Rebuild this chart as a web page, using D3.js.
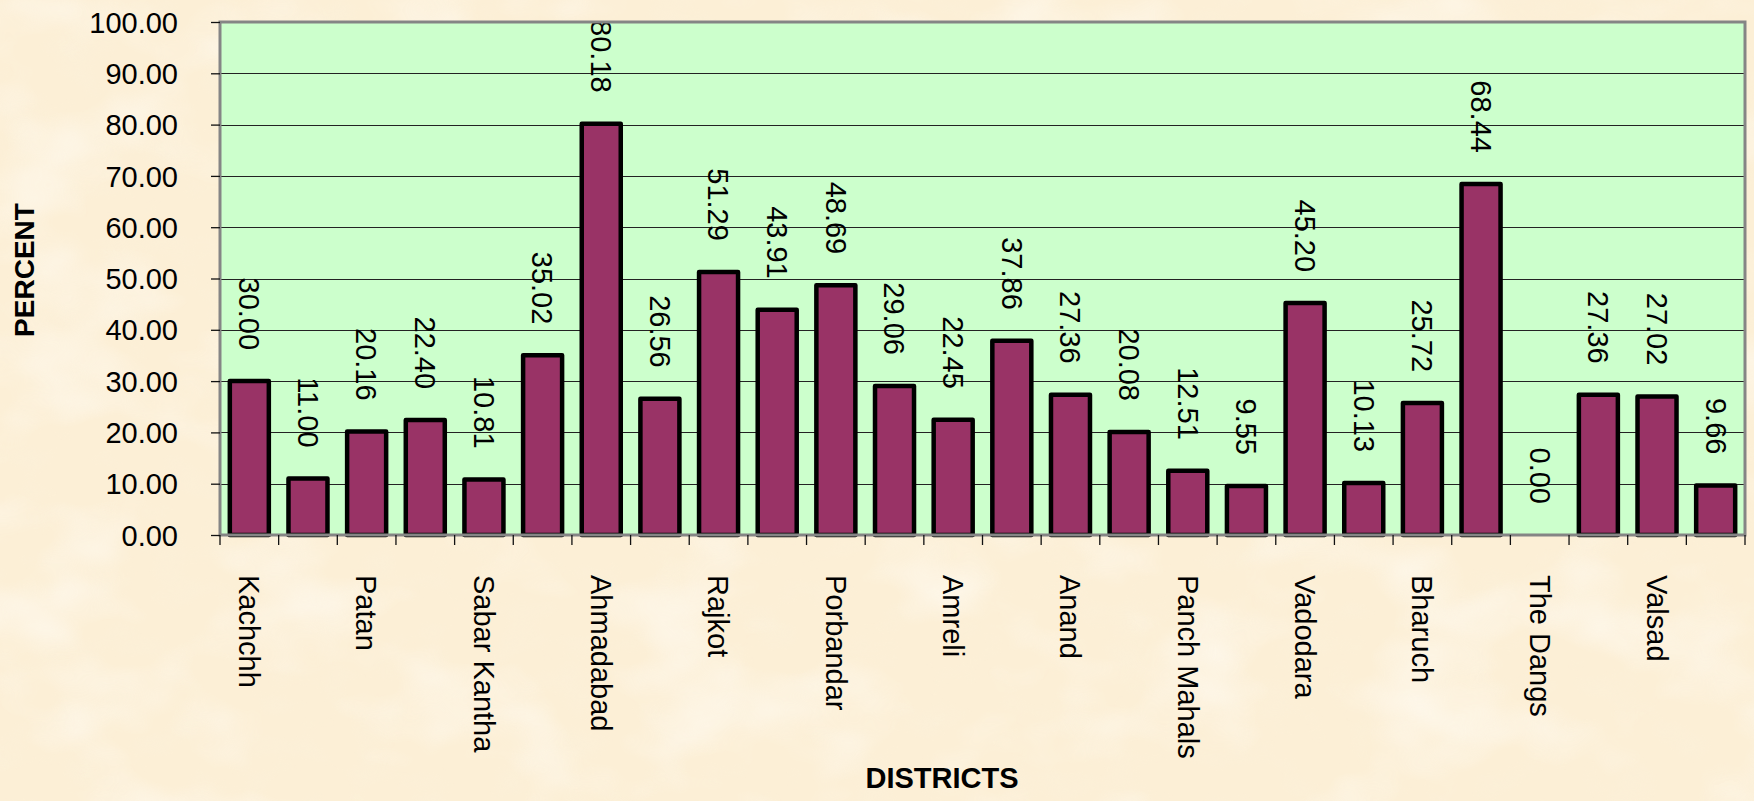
<!DOCTYPE html>
<html>
<head>
<meta charset="utf-8">
<script src="https://cdn.jsdelivr.net/npm/d3@7"></script>
<style>
  body { margin: 0; padding: 0; background: #fcefd6; }
  svg { display: block; }
  text { font-family: "Liberation Sans", Arial, sans-serif; fill: #000; }
</style>
</head>
<body>
<div id="chart"></div>
<script>
// districts in chart order (only every second one gets a label, like the original)
var districts = ["Kachchh", "Banas Kantha", "Patan", "Mahesana", "Sabar Kantha", "Gandhinagar",
  "Ahmadabad", "Surendranagar", "Rajkot", "Jamnagar", "Porbandar", "Junagadh", "Amreli",
  "Bhavnagar", "Anand", "Kheda", "Panch Mahals", "Dohad", "Vadodara", "Narmada", "Bharuch",
  "Surat", "The Dangs", "Navsari", "Valsad", "Tapi"];
var percent = [30.00, 11.00, 20.16, 22.40, 10.81, 35.02, 80.18, 26.56, 51.29, 43.91, 48.69, 29.06,
  22.45, 37.86, 27.36, 20.08, 12.51, 9.55, 45.20, 10.13, 25.72, 68.44, 0.00, 27.36, 27.02, 9.66];
var yTicks = [0, 10, 20, 30, 40, 50, 60, 70, 80, 90, 100];
var shownLabels = ["Kachchh", "Patan", "Sabar Kantha", "Ahmadabad", "Rajkot", "Porbandar", "Amreli",
  "Anand", "Panch Mahals", "Vadodara", "Bharuch", "The Dangs", "Valsad"];

var width = 1754, height = 801;
var margin = {top: 22, right: 9, bottom: 266, left: 220};
var w = width - margin.left - margin.right,
    h = height - margin.top - margin.bottom;

var svg = d3.select("#chart").append("svg")
  .attr("width", width)
  .attr("height", height);

// paper-like background
var defs = svg.append("defs");
var f1 = defs.append("filter").attr("id", "light").attr("x", 0).attr("y", 0).attr("width", 1).attr("height", 1);
f1.append("feTurbulence").attr("type", "fractalNoise").attr("baseFrequency", "0.008 0.012").attr("numOctaves", 3).attr("seed", 7);
f1.append("feColorMatrix").attr("type", "matrix")
  .attr("values", "0 0 0 0 1  0 0 0 0 0.99  0 0 0 0 0.96  2.2 0 0 0 -1.05");
var f2 = defs.append("filter").attr("id", "dark").attr("x", 0).attr("y", 0).attr("width", 1).attr("height", 1);
f2.append("feTurbulence").attr("type", "fractalNoise").attr("baseFrequency", "0.02 0.03").attr("numOctaves", 2).attr("seed", 3);
f2.append("feColorMatrix").attr("type", "matrix")
  .attr("values", "0 0 0 0 0.96  0 0 0 0 0.89  0 0 0 0 0.74  0 0 2 0 -1.0");

svg.append("rect").attr("width", width).attr("height", height).attr("fill", "#fcefd6");
svg.append("rect").attr("width", width).attr("height", height).attr("filter", "url(#dark)").attr("opacity", 0.3);
svg.append("rect").attr("width", width).attr("height", height).attr("filter", "url(#light)").attr("opacity", 0.6);

var g = svg.append("g").attr("transform", "translate(" + margin.left + "," + margin.top + ")");

var x = d3.scaleBand()
  .domain(districts)
  .range([0, w])
  .paddingInner(0.335)
  .paddingOuter(0.1675);

var y = d3.scaleLinear()
  .domain([0, 100])
  .range([h, 0]);

// plot area
g.append("rect")
  .attr("width", w).attr("height", h)
  .attr("fill", "#ccffcc");

// gridlines
g.append("g")
  .selectAll("line")
  .data(yTicks.filter(function(d) { return d > 0 && d < 100; }))
  .enter().append("line")
  .attr("x1", 0).attr("x2", w)
  .attr("y1", function(d) { return Math.round(y(d)) + 0.5; })
  .attr("y2", function(d) { return Math.round(y(d)) + 0.5; })
  .attr("stroke", "#222")
  .attr("stroke-width", 1.2);

// bars
g.append("g")
  .selectAll("rect")
  .data(percent)
  .enter().append("rect")
  .attr("x", function(d, i) { return x(districts[i]); })
  .attr("y", function(d) { return y(d); })
  .attr("width", x.bandwidth())
  .attr("height", function(d) { return h - y(d); })
  .attr("fill", "#993366")
  .attr("stroke", "#000")
  .attr("stroke-width", 4.5)
  .attr("stroke-linejoin", "round");

// value labels, rotated like excel's 90 degree labels
g.append("g")
  .selectAll("text")
  .data(percent)
  .enter().append("text")
  .attr("transform", function(d, i) {
    return "translate(" + (x(districts[i]) + x.bandwidth() / 2) + "," + (y(d) - 31) + ") rotate(90)";
  })
  .attr("text-anchor", "end")
  .attr("dy", "0.35em")
  .style("font-size", "29px")
  .text(function(d) { return d.toFixed(2); });

// plot border (grey)
g.append("rect")
  .attr("width", w).attr("height", h)
  .attr("fill", "none")
  .attr("stroke", "#858585")
  .attr("stroke-width", 3);

// y axis
var yAxis = d3.axisLeft(y)
  .tickValues(yTicks)
  .tickSize(9)
  .tickPadding(33)
  .tickFormat(function(d) { return d.toFixed(2); });
var gy = g.append("g").call(yAxis);
gy.select(".domain").remove();
gy.selectAll(".tick line").attr("stroke", "#111").attr("stroke-width", 1.3);
gy.selectAll(".tick text").style("font-size", "29px").attr("dy", "0.35em");

// x axis: ticks at band boundaries
var bounds = districts.map(function(d) { return x(d) - x.step() * x.paddingInner() / 2; });
bounds.push(w);
g.append("g")
  .selectAll("line")
  .data(bounds)
  .enter().append("line")
  .attr("x1", function(d) { return d; }).attr("x2", function(d) { return d; })
  .attr("y1", h).attr("y2", h + 10)
  .attr("stroke", "#111")
  .attr("stroke-width", 1.3);

g.append("g")
  .selectAll("text")
  .data(shownLabels)
  .enter().append("text")
  .attr("transform", function(d) {
    return "translate(" + (x(d) + x.bandwidth() / 2) + "," + (h + 40) + ") rotate(90)";
  })
  .attr("text-anchor", "start")
  .attr("dy", "0.35em")
  .style("font-size", "29px")
  .text(function(d) { return d; });

// axis titles
svg.append("text")
  .attr("transform", "translate(24,270) rotate(-90)")
  .attr("text-anchor", "middle")
  .attr("dy", "0.35em")
  .style("font-size", "28px")
  .style("font-weight", "bold")
  .text("PERCENT");

svg.append("text")
  .attr("x", 942)
  .attr("y", 778)
  .attr("text-anchor", "middle")
  .attr("dy", "0.35em")
  .style("font-size", "29px")
  .style("font-weight", "bold")
  .text("DISTRICTS");
</script>
</body>
</html>
